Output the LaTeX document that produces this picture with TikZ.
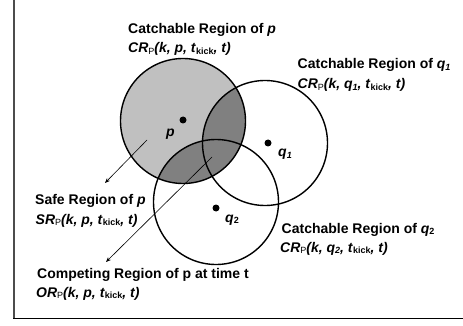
\documentclass[tikz,border=0pt]{standalone}
\usepackage{fontspec}
\setmainfont{Liberation Sans}
\usetikzlibrary{arrows.meta}
\definecolor{lightg}{HTML}{C0C0C0}
\definecolor{darkg}{HTML}{808080}
\newcommand\lowsub[1]{\raisebox{-0.2ex}{\fontsize{9}{9}\selectfont #1}}
\newcommand\crline[3]{\textit{#1}\lowsub{\mdseries\upshape P}\textit{(k, #2, t}\lowsub{\bfseries\upshape kick}\textit{, t)}}
\begin{document}
\begin{tikzpicture}[x=1pt,y=-1pt,
  lbl/.style={anchor=base west,inner sep=0pt,font=\fontsize{14}{16}\selectfont\bfseries},
  dot/.style={circle,fill=black,inner sep=0pt,minimum size=7pt},
  ring/.style={draw=black,line width=1.4pt},
  pointer/.style={draw=black,line width=0.6pt,-{Stealth[length=5pt,width=4pt]}}]
\useasboundingbox (0,0) rectangle (463,326);
% frame
\draw[gray!60!black,line width=1.4pt] (14,0) -- (14,318.5);
\draw[black,line width=1.4pt] (13.3,318.5) -- (463,318.5);
% centres
\coordinate (cp) at (183,121);
\coordinate (cq1) at (265,143);
\coordinate (cq2) at (216,202);
% fills
\fill[lightg] (cp) circle (62.5pt);
\begin{scope}
  \clip (cp) circle (62.5pt);
  \fill[darkg] (cq1) circle (62.5pt);
  \fill[darkg] (cq2) circle (62.5pt);
\end{scope}
% rings
\draw[ring] (cp) circle (62.5pt);
\draw[ring] (cq1) circle (62.5pt);
\draw[ring] (cq2) circle (62.5pt);
% dots
\node[dot] (dp) at (183,120) {};
\node[dot] (dq1) at (268,143) {};
\node[dot] (dq2) at (216,208) {};
\node[lbl] (lp) at (166,136) {\itshape p};
\node[lbl] (lq1) at (278,157) {\itshape q\lowsub{1}};
\node[lbl] (lq2) at (225,222) {\itshape q\lowsub{\upshape 2}};
% arrows
\coordinate (a1s) at (147,140);
\coordinate (a1e) at (105,183);
\coordinate (a2s) at (212,157);
\coordinate (a2e) at (106,262);
\draw[pointer] (a1s) -- (a1e);
\draw[pointer] (a2s) -- (a2e);
% labels
\node[lbl] (t1a) at (128,34) {Catchable Region of \textit{p}};
\node[lbl] (t1b) at (128,53) {\crline{CR}{p}{}};
\node[lbl] (t2a) at (297.5,69) {Catchable Region of \textit{q\lowsub{1}}};
\node[lbl] (t2b) at (297.5,89) {\textit{CR}\lowsub{\mdseries\upshape P}\textit{(k, q\lowsub{1}, t}\lowsub{\bfseries\upshape kick}\textit{, t)}};
\node[lbl] (t3a) at (35,204) {Safe Region of \textit{p}};
\node[lbl] (t3b) at (35.5,224) {\crline{SR}{p}{}};
\node[lbl] (t4a) at (281.5,233) {Catchable Region of \textit{q}\lowsub{2}};
\node[lbl] (t4b) at (280,252) {\textit{CR}\lowsub{\mdseries\upshape P}\textit{(k, q}\lowsub{\bfseries\itshape 2}\textit{, t}\lowsub{\bfseries\upshape kick}\textit{, t)}};
\node[lbl] (t5a) at (37,278) {Competing Region of p at time t};
\node[lbl] (t5b) at (36,297) {\crline{OR}{p}{}};
\end{tikzpicture}
\end{document}
